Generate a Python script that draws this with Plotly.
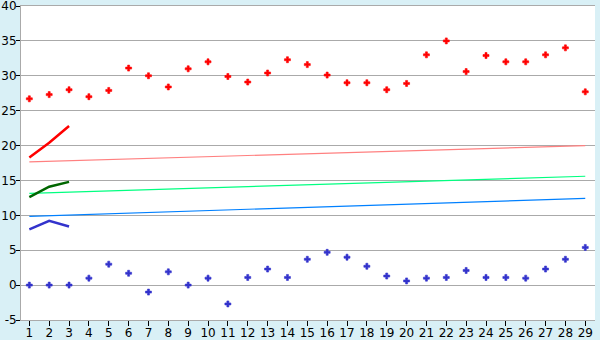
import plotly.graph_objects as go

days = list(range(1, 30))
red_pts = [26.7, 27.3, 28.0, 27.0, 27.9, 31.1, 30.0, 28.4, 31.0, 32.0,
           29.9, 29.1, 30.4, 32.3, 31.6, 30.1, 29.0, 29.0, 28.0, 28.9,
           33.0, 35.0, 30.6, 32.9, 32.0, 32.0, 33.0, 34.0, 27.7]
blue_pts = [0.0, 0.0, 0.0, 1.0, 3.0, 1.7, -1.0, 1.9, 0.0, 1.0,
            -2.7, 1.1, 2.3, 1.1, 3.7, 4.7, 4.0, 2.7, 1.3, 0.6,
            1.0, 1.1, 2.1, 1.1, 1.1, 1.0, 2.3, 3.7, 5.4]
short_x = [1, 2, 3]
red_line = [18.3, 20.4, 22.8]
green_line = [12.6, 14.1, 14.8]
blue_line = [8.0, 9.2, 8.4]
trend_x = [1, 29]
pink_trend = [17.65, 20.0]
lgreen_trend = [13.15, 15.6]
lblue_trend = [9.86, 12.43]
y_ticks = list(range(-5, 41, 5))

fig = go.Figure()
fig.add_trace(go.Scatter(x=trend_x, y=pink_trend, mode="lines", line=dict(color="#ff8080", width=1.2)))
fig.add_trace(go.Scatter(x=trend_x, y=lgreen_trend, mode="lines", line=dict(color="#00ff80", width=1.2)))
fig.add_trace(go.Scatter(x=trend_x, y=lblue_trend, mode="lines", line=dict(color="#0080ff", width=1.2)))
fig.add_trace(go.Scatter(x=short_x, y=red_line, mode="lines", line=dict(color="#ff0000", width=2.5)))
fig.add_trace(go.Scatter(x=short_x, y=green_line, mode="lines", line=dict(color="#006600", width=2.5)))
fig.add_trace(go.Scatter(x=short_x, y=blue_line, mode="lines", line=dict(color="#3333cc", width=2.5)))
fig.add_trace(go.Scatter(x=days, y=red_pts, mode="markers",
                         marker=dict(symbol="cross", size=5, color="#ff0000",
                                     line=dict(width=0.6, color="#ff0000"))))
fig.add_trace(go.Scatter(x=days, y=blue_pts, mode="markers",
                         marker=dict(symbol="cross", size=5, color="#3333cc",
                                     line=dict(width=0.6, color="#3333cc"))))

fig.update_layout(
    width=600, height=340,
    margin=dict(l=21, r=5, t=6, b=20),
    paper_bgcolor="#d9f0f6",
    plot_bgcolor="#ffffff",
    showlegend=False,
    font=dict(family="DejaVu Sans", size=12, color="#000000"),
)
fig.update_xaxes(range=[0.58, 29.49], tickmode="array", tickvals=days,
                 ticktext=[str(d) for d in days], automargin=False,
                 showgrid=False, zeroline=False,
                 showline=True, linecolor="#aaaaaa", linewidth=1, mirror=True,
                 ticklabelstandoff=-3,
                 ticks="outside", ticklen=5, tickcolor="#000000", tickwidth=1)
fig.update_yaxes(range=[-5, 40], tickmode="array", tickvals=y_ticks,
                 ticktext=[str(v) for v in y_ticks], automargin=False,
                 showgrid=True, gridcolor="#aaaaaa", gridwidth=1, zeroline=False,
                 showline=True, linecolor="#aaaaaa", linewidth=1,
                 ticklabeloverflow="allow", ticklabelstandoff=-3,
                 ticks="outside", ticklen=4, tickcolor="#000000", tickwidth=1)

fig.write_html("out.html")
